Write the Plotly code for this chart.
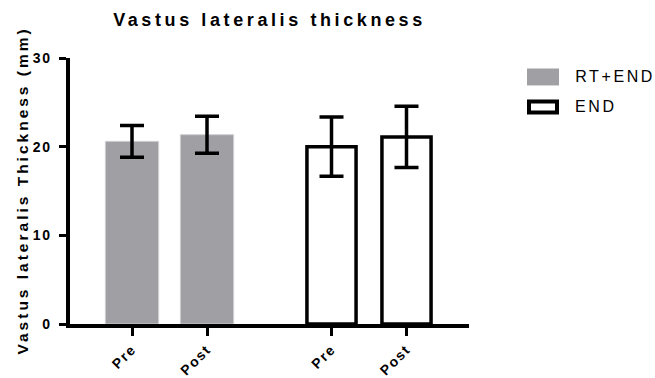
import plotly.graph_objects as go

# ---- data ----
groups = ["RT+END", "END"]
timepoints = ["Pre", "Post"]
rt_end_mean = [20.6, 21.35]
rt_end_err = [1.8, 2.08]
end_mean = [20.0, 21.1]
end_err = [3.34, 3.45]
y_ticks = [0, 10, 20, 30]

# category positions (group gap between the two groups)
x_rt = [0, 1]
x_end = [2.66, 3.66]

W, H = 655, 378
L, R, T, B = 70, 186, 57.5, 54
FONT = "Arial, Liberation Sans, sans-serif"
GRAY = "#a0a0a4"

fig = go.Figure()
fig.add_trace(go.Bar(
    x=x_rt, y=rt_end_mean, name=groups[0], width=0.71,
    marker=dict(color=GRAY, line=dict(color="#cfcfd2", width=1)),
    error_y=dict(type="data", array=rt_end_err, visible=True,
                 color="black", thickness=3.5, width=12),
    showlegend=False,
))
fig.add_trace(go.Bar(
    x=x_end, y=end_mean, name=groups[1], width=0.655,
    marker=dict(color="white", line=dict(color="black", width=3.5)),
    error_y=dict(type="data", array=end_err, visible=True,
                 color="black", thickness=3.5, width=12),
    showlegend=False,
))

pw = W - L - R
ph = H - T - B
def px2x(px):
    return (px - L) / pw
def py2y(py):
    return (H - B - py) / ph

LS_LEG = 2.6  # legend letter spacing (px)

# custom legend
fig.add_shape(type="rect", xref="paper", yref="paper",
              x0=px2x(527), x1=px2x(559), y0=py2y(85), y1=py2y(68),
              fillcolor=GRAY, line=dict(width=0))
fig.add_shape(type="rect", xref="paper", yref="paper",
              x0=px2x(529), x1=px2x(557), y0=py2y(112), y1=py2y(101),
              fillcolor="white", line=dict(color="black", width=4))
fig.add_annotation(text=groups[0], xref="paper", yref="paper",
                   x=px2x(573 + LS_LEG * len(groups[0]) / 2), y=py2y(76.5),
                   xanchor="left", yanchor="middle",
                   showarrow=False, font=dict(family=FONT, size=16, color="black"))
fig.add_annotation(text=groups[1], xref="paper", yref="paper",
                   x=px2x(573 + LS_LEG * len(groups[1]) / 2), y=py2y(106.5),
                   xanchor="left", yanchor="middle",
                   showarrow=False, font=dict(family=FONT, size=16, color="black"))
# y axis title
fig.add_annotation(text="Vastus lateralis Thickness (mm)", xref="paper", yref="paper",
                   x=px2x(22), y=0.5, xanchor="center", yanchor="middle",
                   textangle=-90, showarrow=False,
                   font=dict(family=FONT, size=15.5, color="black", weight="bold"))

fig.update_layout(
    width=W, height=H,
    margin=dict(l=L, r=R, t=T, b=B, autoexpand=False),
    plot_bgcolor="white", paper_bgcolor="white",
    barmode="overlay",
    title=dict(text="Vastus lateralis thickness", x=0.5, xref="paper",
               y=1 - 20 / H, yref="container", yanchor="middle", xanchor="center",
               font=dict(family=FONT, size=18, color="black", weight="bold")),
    showlegend=False,
    xaxis=dict(range=[-62 / 75, 337 / 75], tickvals=x_rt + x_end,
               ticktext=timepoints + timepoints, tickangle=-45,
               showline=True, linecolor="black", linewidth=3.5,
               ticks="outside", ticklen=8, tickwidth=3, tickcolor="black",
               showgrid=False, zeroline=False,
               tickfont=dict(family=FONT, size=14, color="black", weight="bold")),
    yaxis=dict(range=[0, 30], tickvals=y_ticks,
               showline=True, linecolor="black", linewidth=3.5,
               ticks="outside", ticklen=7, tickwidth=3, tickcolor="black",
               showgrid=False, zeroline=False, ticklabelstandoff=5,
               tickfont=dict(family=FONT, size=14, color="black", weight="bold")),
)

css = ("html,body{margin:0;padding:0}"
       ".gtitle{letter-spacing:3.6px}"
       ".xtick text,.ytick text{letter-spacing:1.5px}"
       ".annotation text{letter-spacing:%spx}"
       ".annotation[data-index='2'] text{letter-spacing:3px}") % LS_LEG
post = ("var st=document.createElement('style');st.textContent=\"" + css +
        "\";document.head.appendChild(st);")
fig.write_html("out.html", post_script=post, config={"displayModeBar": False})
